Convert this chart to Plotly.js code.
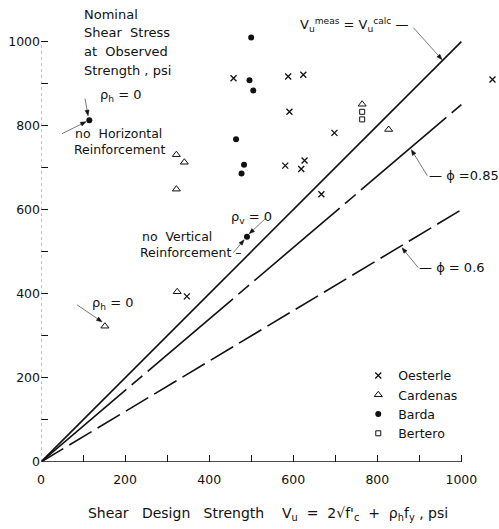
<!DOCTYPE html>
<html><head><meta charset="utf-8">
<script src="https://cdn.plot.ly/plotly-3.0.1.min.js"></script>
<style>html,body{margin:0;padding:0;background:#fff}#chart{width:499px;height:529px}</style>
</head><body><div id="chart"></div>
<script>
// ---- data (psi) ----
const oesterleX = [458, 588, 624, 591, 698, 581, 627, 619, 667, 347, 1074];
const oesterleY = [913, 917, 921, 833, 783, 705, 717, 697, 637, 394, 910];
const cardenasX = [322, 341, 322, 324, 152, 764, 827];
const cardenasY = [731, 713, 649, 405, 323, 851, 791];
const bardaX = [500, 496, 505, 464, 483, 477, 490, 115];
const bardaY = [1010, 908, 884, 768, 707, 686, 536, 813];
const berteroX = [764, 764];
const berteroY = [833, 815];
const lineX = [0, 1000];
const unityY = [0, 1000];
const phi085Y = [0, 850];
const phi06Y = [0, 600];
const tickVals = [0, 200, 400, 600, 800, 1000];
const minorVals = [100, 300, 500, 700, 900];

const INK = '#111';
const FONT = 'DejaVu Sans';
const SP = '\u00a0';

const L = 41, R = 4.4, T = 29.4, B = 67;
const PW = 499 - L - R, PH = 529 - T - B;
function px2x(px) { return (px - L) / PW; }
function py2y(py) { return (462 - py) / PH; }
function label(px, py, text, size) {
  return {x: px2x(px), y: py2y(py), xref: 'paper', yref: 'paper', text: text, showarrow: false,
    xanchor: 'left', yanchor: 'middle', font: {family: FONT, size: size || 12.5, color: INK}};
}
// leader line (tail -> head) with a small filled arrowhead, drawn as shapes
const leaderShapes = [];
function leader(hx, hy, tx, ty) {
  const dx = hx - tx, dy = hy - ty, len = Math.hypot(dx, dy);
  const ux = dx / len, uy = dy / len, nx = -uy, ny = ux;
  const bx = hx - 5.5 * ux, by = hy - 5.5 * uy;
  leaderShapes.push({type: 'line', xref: 'paper', yref: 'paper',
    x0: px2x(tx), y0: py2y(ty), x1: px2x(bx), y1: py2y(by), line: {color: '#555', width: 0.8}});
  leaderShapes.push({type: 'path', xref: 'paper', yref: 'paper', fillcolor: INK, line: {color: INK, width: 0.5},
    path: 'M ' + px2x(hx) + ' ' + py2y(hy) + ' L ' + px2x(bx + 2 * nx) + ' ' + py2y(by + 2 * ny) +
          ' L ' + px2x(bx - 2 * nx) + ' ' + py2y(by - 2 * ny) + ' Z'});
}
leader(441.7, 60, 413, 28);
leader(411, 150, 427, 176);
leader(401.7, 248, 418, 268);
leader(88, 116, 85, 99);
leader(86, 122, 62, 134);
leader(249, 234, 265, 219);
leader(244, 240, 233, 253);
leader(102, 322, 77, 305);

const traces = [
  {x: lineX, y: unityY, mode: 'lines', line: {color: INK, width: 1.6}, showlegend: false, hoverinfo: 'skip'},
  {x: lineX, y: phi085Y, mode: 'lines', line: {color: INK, width: 1.6, dash: '112px,7px,14px,7px'}, showlegend: false, hoverinfo: 'skip'},
  {x: lineX, y: phi06Y, mode: 'lines', line: {color: INK, width: 1.6, dash: '26px,7px'}, showlegend: false, hoverinfo: 'skip'},
  {x: oesterleX, y: oesterleY, mode: 'markers', name: 'Oesterle', cliponaxis: false,
   marker: {symbol: 'x-thin-open', size: 6, color: INK, line: {width: 1.3, color: INK}}},
  {x: cardenasX, y: cardenasY, mode: 'markers', name: 'Cardenas', cliponaxis: false,
   marker: {symbol: 'triangle-up-open', size: 7, color: INK, line: {width: 1, color: INK}}},
  {x: bardaX, y: bardaY, mode: 'markers', name: 'Barda', cliponaxis: false,
   marker: {symbol: 'circle', size: 6, color: INK}},
  {x: berteroX, y: berteroY, mode: 'markers', name: 'Bertero', cliponaxis: false,
   marker: {symbol: 'square-open', size: 5, color: INK, line: {width: 1, color: INK}}}
];

const annotations = [
  label(82, 15, 'Nominal', 13),
  label(82, 33.3, 'Shear' + SP + SP + 'Stress', 13),
  label(82, 52.3, 'at' + SP + SP + 'Observed', 13),
  label(82, 70.7, 'Strength , psi', 13),
  label(298, 25, 'V<sub>u</sub><sup>meas</sup> = V<sub>u</sub><sup>calc</sup> —', 13),
  label(427, 176, '— ϕ =0.85', 13),
  label(417, 268, '— ϕ = 0.6', 13),
  label(98, 96, 'ρ<sub>h</sub> = 0', 13),
  label(73, 134, 'no' + SP + SP + 'Horizontal', 12.5),
  label(72, 150, 'Reinforcement', 12.5),
  label(229, 218, 'ρ<sub>v</sub> = 0', 13),
  label(140, 237, 'no' + SP + SP + 'Vertical', 12.5),
  label(138, 253, 'Reinforcement –', 12.5),
  label(90, 304, 'ρ<sub>h</sub> = 0', 13)
];

const xTitle = 'Shear' + SP + SP + SP + 'Design' + SP + SP + SP + 'Strength' + SP + SP + SP + SP +
  'V<sub>u</sub>' + SP + SP + '=' + SP + SP + "2√f'<sub>c</sub>" + SP + SP + '+' + SP + SP +
  'ρ<sub>h</sub>f<sub>y</sub>' + SP + ', psi';

const layout = {
  width: 499, height: 529,
  margin: {l: L, r: R, t: T, b: B, pad: 0},
  paper_bgcolor: '#fff', plot_bgcolor: '#fff',
  font: {family: FONT, color: INK, size: 12.5},
  showlegend: true,
  legend: {x: (358 - L) / PW, y: (462 - 361) / PH, xanchor: 'left', yanchor: 'top',
    bgcolor: 'rgba(0,0,0,0)', font: {family: FONT, size: 12.5, color: INK}, itemwidth: 30, tracegroupgap: 0},
  xaxis: {range: [0, 1080], showline: false, zeroline: false, showgrid: false, automargin: false,
    tickmode: 'array', tickvals: tickVals, ticks: 'inside', ticklen: 7, tickwidth: 1, tickcolor: INK,
    ticklabelstandoff: 8,
    tickfont: {family: FONT, size: 12.5, color: INK},
    minor: {tickmode: 'array', tickvals: minorVals, ticks: 'inside', ticklen: 7, tickwidth: 1, tickcolor: INK, showgrid: false},
    title: {text: xTitle, font: {family: FONT, size: 14, color: INK}, standoff: 22}},
  yaxis: {range: [0, 1030], showline: false, zeroline: false, showgrid: false, automargin: false,
    tickmode: 'array', tickvals: tickVals, ticks: 'inside', ticklen: 7, tickwidth: 1, tickcolor: INK,
    tickfont: {family: FONT, size: 12.5, color: INK},
    minor: {tickmode: 'array', tickvals: minorVals, ticks: 'inside', ticklen: 7, tickwidth: 1, tickcolor: INK, showgrid: false}},
  shapes: [
    {type: 'line', xref: 'x', yref: 'y', x0: 0, x1: 1000, y0: 0, y1: 0, line: {color: INK, width: 1.3}, layer: 'above'},
    {type: 'line', xref: 'x', yref: 'y', x0: 0, x1: 0, y0: 0, y1: 1000, line: {color: '#888', width: 1, dash: 'dot'}, layer: 'above'}
  ].concat(leaderShapes),
  annotations: annotations
};

Plotly.newPlot('chart', traces, layout, {displayModeBar: false, staticPlot: true});
</script>
</body></html>
